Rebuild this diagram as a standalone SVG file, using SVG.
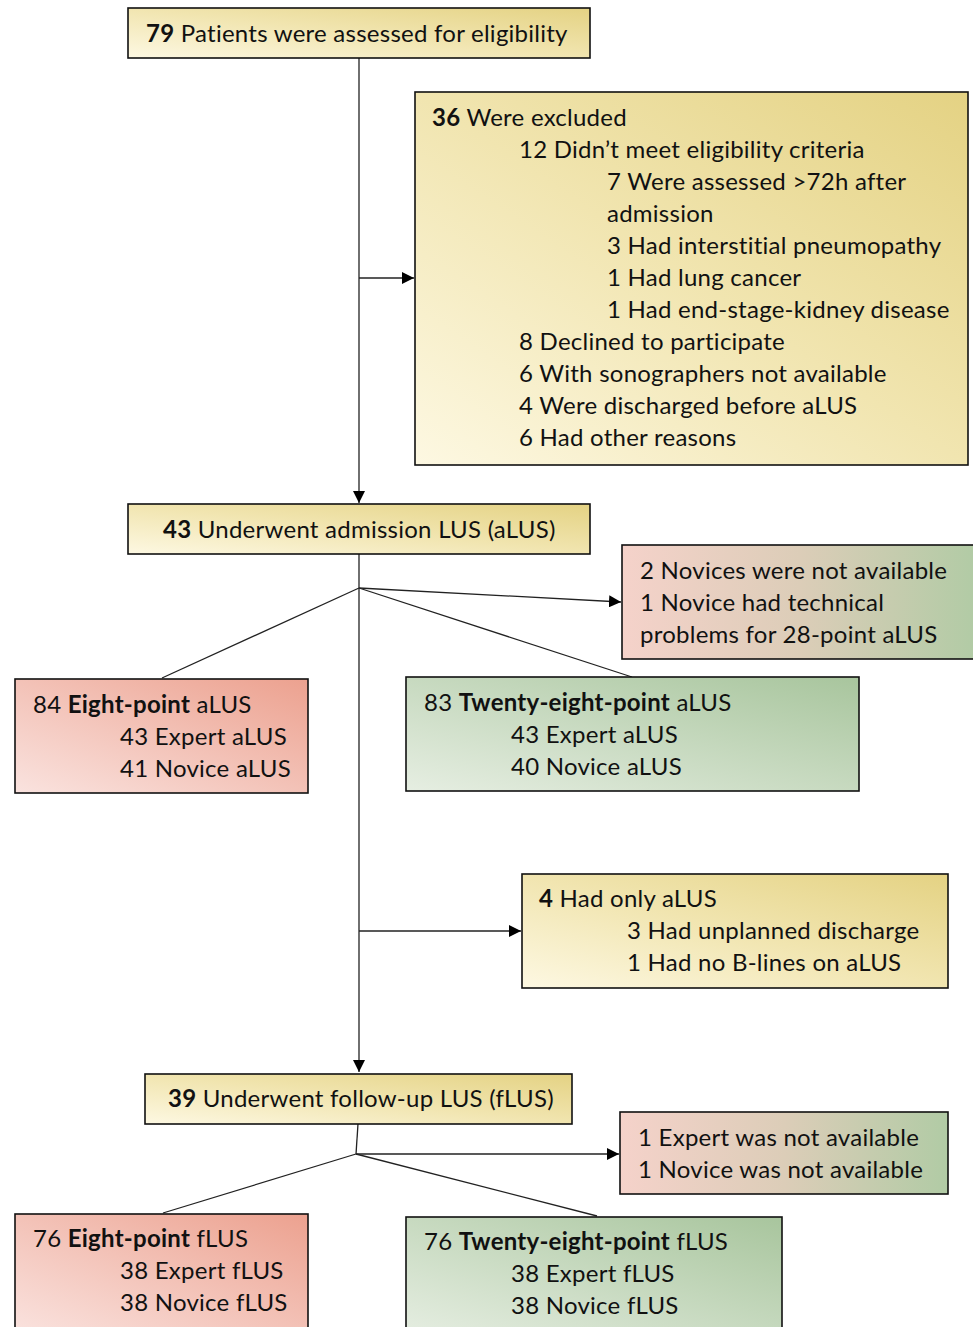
<svg xmlns="http://www.w3.org/2000/svg" width="973" height="1327" viewBox="0 0 973 1327">
<style>
text{font-family:Lato,"Open Sans","Liberation Sans",sans-serif;font-size:24px;letter-spacing:0.25px;fill:#111}
.b{font-weight:bold}
.box{stroke:#111;stroke-width:1.6}
.y{fill:url(#gy)}
.r{fill:url(#gr)}
.g{fill:url(#gg)}
.m{fill:url(#gm)}
.c line,.c polyline{stroke:#222;stroke-width:1.3;fill:none}
</style>
<defs>
<linearGradient id="gy" x1="0" y1="1" x2="1" y2="0"><stop offset="0" stop-color="#fdf8e2"/><stop offset="0.5" stop-color="#f1e5b0"/><stop offset="1" stop-color="#e4d283"/></linearGradient>
<linearGradient id="gr" x1="0" y1="1" x2="1" y2="0"><stop offset="0" stop-color="#fae3df"/><stop offset="1" stop-color="#eca18f"/></linearGradient>
<linearGradient id="gg" x1="0" y1="1" x2="1" y2="0"><stop offset="0" stop-color="#e6eee2"/><stop offset="1" stop-color="#a8c59d"/></linearGradient>
<linearGradient id="gm" x1="0" y1="0" x2="1" y2="0"><stop offset="0" stop-color="#f5d2ca"/><stop offset="0.5" stop-color="#dccdb8"/><stop offset="1" stop-color="#b1cba5"/></linearGradient>
<marker id="ah" viewBox="0 0 12 12" refX="12" refY="6" markerWidth="12" markerHeight="12" markerUnits="userSpaceOnUse" orient="auto"><path d="M0,0L12,6L0,12Z" fill="#000"/></marker>
</defs>
<g class="c" id="connectors">
<line x1="359" y1="58" x2="359" y2="503" marker-end="url(#ah)"/>
<line x1="359" y1="278" x2="414" y2="278" marker-end="url(#ah)"/>
<line x1="359" y1="554" x2="359" y2="1072" marker-end="url(#ah)"/>
<line x1="359" y1="588" x2="162" y2="678"/>
<line x1="359" y1="588" x2="632" y2="677"/>
<line x1="359" y1="588" x2="621" y2="602" marker-end="url(#ah)"/>
<line x1="359" y1="931" x2="521" y2="931" marker-end="url(#ah)"/>
<line x1="358" y1="1124" x2="356" y2="1154"/>
<line x1="356" y1="1154" x2="163" y2="1213"/>
<line x1="356" y1="1154" x2="597" y2="1216"/>
<line x1="356" y1="1154" x2="619" y2="1154" marker-end="url(#ah)"/>
</g>
<g id="n1">
<rect class="box y" x="128" y="8" width="462" height="50"/>
<text x="146" y="42"><tspan class="b">79</tspan> Patients were assessed for eligibility</text>
</g>
<g id="n2">
<rect class="box y" x="415" y="92" width="553" height="373"/>
<text x="432" y="126"><tspan class="b">36</tspan> Were excluded</text>
<text x="519" y="158">12 Didn’t meet eligibility criteria</text>
<text x="607" y="190">7 Were assessed &gt;72h after</text>
<text x="607" y="222">admission</text>
<text x="607" y="254">3 Had interstitial pneumopathy</text>
<text x="607" y="286">1 Had lung cancer</text>
<text x="607" y="318">1 Had end-stage-kidney disease</text>
<text x="519" y="350">8 Declined to participate</text>
<text x="519" y="382">6 With sonographers not available</text>
<text x="519" y="414">4 Were discharged before aLUS</text>
<text x="519" y="446">6 Had other reasons</text>
</g>
<g id="n3">
<rect class="box y" x="128" y="504" width="462" height="50"/>
<text x="163" y="538"><tspan class="b">43</tspan> Underwent admission LUS (aLUS)</text>
</g>
<g id="n4">
<rect class="box m" x="622" y="545" width="355" height="114"/>
<text x="640" y="579">2 Novices were not available</text>
<text x="640" y="611">1 Novice had technical</text>
<text x="640" y="643">problems for 28-point aLUS</text>
</g>
<g id="n5">
<rect class="box r" x="15" y="679" width="293" height="114"/>
<text x="33" y="713">84 <tspan class="b">Eight-point</tspan> aLUS</text>
<text x="120" y="745">43 Expert aLUS</text>
<text x="120" y="777">41 Novice aLUS</text>
</g>
<g id="n6">
<rect class="box g" x="406" y="677" width="453" height="114"/>
<text x="424" y="711">83 <tspan class="b">Twenty-eight-point</tspan> aLUS</text>
<text x="511" y="743">43 Expert aLUS</text>
<text x="511" y="775">40 Novice aLUS</text>
</g>
<g id="n7">
<rect class="box y" x="522" y="874" width="426" height="114"/>
<text x="539" y="907"><tspan class="b">4</tspan> Had only aLUS</text>
<text x="627" y="939">3 Had unplanned discharge</text>
<text x="627" y="971">1 Had no B-lines on aLUS</text>
</g>
<g id="n8">
<rect class="box y" x="145" y="1074" width="427" height="50"/>
<text x="168" y="1107"><tspan class="b">39</tspan> Underwent follow-up LUS (fLUS)</text>
</g>
<g id="n9">
<rect class="box m" x="620" y="1112" width="328" height="82"/>
<text x="638" y="1146">1 Expert was not available</text>
<text x="638" y="1178">1 Novice was not available</text>
</g>
<g id="n10">
<rect class="box r" x="15" y="1214" width="293" height="120"/>
<text x="33" y="1247">76 <tspan class="b">Eight-point</tspan> fLUS</text>
<text x="120" y="1279">38 Expert fLUS</text>
<text x="120" y="1311">38 Novice fLUS</text>
</g>
<g id="n11">
<rect class="box g" x="406" y="1217" width="376" height="120"/>
<text x="424" y="1250">76 <tspan class="b">Twenty-eight-point</tspan> fLUS</text>
<text x="511" y="1282">38 Expert fLUS</text>
<text x="511" y="1314">38 Novice fLUS</text>
</g>
</svg>
